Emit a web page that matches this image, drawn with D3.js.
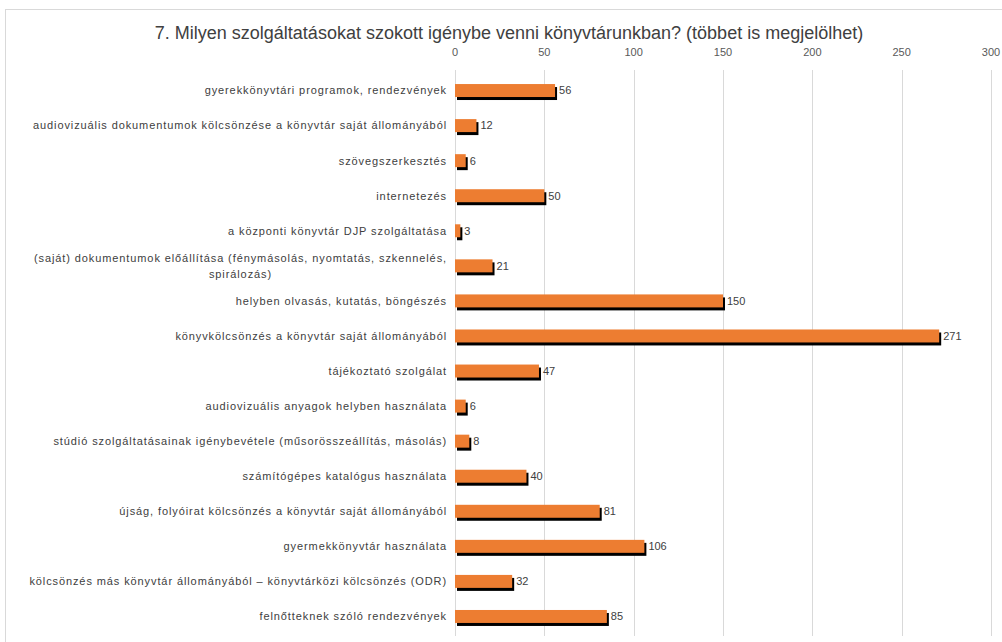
<!DOCTYPE html>
<html lang="hu">
<head>
    <meta charset="utf-8">
    <script src="https://d3js.org/d3.v7.min.js"></script>
    <style>
        body { margin: 0; background: #fff; }
        text { font-family: "Liberation Sans", Arial, sans-serif; }
    </style>
</head>
<body>
<script>
    var w = 1002;
    var h = 642;

    var categories = [
        'gyerekkönyvtári programok, rendezvények',
        'audiovizuális dokumentumok kölcsönzése a könyvtár saját állományából',
        'szövegszerkesztés',
        'internetezés',
        'a központi könyvtár DJP szolgáltatása',
        '(saját) dokumentumok előállítása (fénymásolás, nyomtatás, szkennelés,|spirálozás)',
        'helyben olvasás, kutatás, böngészés',
        'könyvkölcsönzés a könyvtár saját állományából',
        'tájékoztató szolgálat',
        'audiovizuális anyagok helyben használata',
        'stúdió szolgáltatásainak igénybevétele (műsorösszeállítás, másolás)',
        'számítógépes katalógus használata',
        'újság, folyóirat kölcsönzés a könyvtár saját állományából',
        'gyermekkönyvtár használata',
        'kölcsönzés más könyvtár állományából – könyvtárközi kölcsönzés (ODR)',
        'felnőtteknek szóló rendezvények'
    ];
    var values = [56, 12, 6, 50, 3, 21, 150, 271, 47, 6, 8, 40, 81, 106, 32, 85];
    var xTicks = [0, 50, 100, 150, 200, 250, 300];

    var data = categories.map(function(c, i) { return {cat: c, value: values[i]}; });

    var svg = d3.select('body').append('svg').attr('width', w).attr('height', h);

    // chart frame
    svg.append('rect')
        .attr('x', 5.5).attr('y', 9.5)
        .attr('width', 1010).attr('height', 650)
        .attr('fill', '#fff').attr('stroke', '#d9d9d9');

    svg.append('text')
        .attr('x', 509).attr('y', 39)
        .attr('text-anchor', 'middle')
        .attr('font-size', '18px')
        .attr('fill', '#404040')
        .text('7. Milyen szolgáltatásokat szokott igénybe venni könyvtárunkban? (többet is megjelölhet)');

    var x = d3.scaleLinear().domain([0, 300]).range([455, 991]);
    var y = d3.scaleBand().domain(categories).range([73, 634]).paddingInner(0.63).paddingOuter(0.315);

    // gridlines
    svg.selectAll('line.grid')
        .data(xTicks)
        .enter()
        .append('line')
        .attr('class', 'grid')
        .attr('x1', function(d) { return Math.round(x(d)) + 0.5; })
        .attr('x2', function(d) { return Math.round(x(d)) + 0.5; })
        .attr('y1', 70).attr('y2', 636)
        .attr('stroke', '#d9d9d9');

    svg.selectAll('text.tick')
        .data(xTicks)
        .enter()
        .append('text')
        .attr('class', 'tick')
        .attr('x', function(d) { return x(d); })
        .attr('y', 56)
        .attr('text-anchor', 'middle')
        .attr('font-size', '11px')
        .attr('fill', '#595959')
        .text(function(d) { return d; });

    // shadow then bar
    svg.selectAll('rect.shadow')
        .data(data)
        .enter()
        .append('rect')
        .attr('class', 'shadow')
        .attr('x', x(0) + 2)
        .attr('y', function(d) { return y(d.cat) + 3; })
        .attr('width', function(d) { return x(d.value) - x(0); })
        .attr('height', y.bandwidth())
        .attr('fill', '#000');

    svg.selectAll('rect.bar')
        .data(data)
        .enter()
        .append('rect')
        .attr('class', 'bar')
        .attr('x', x(0))
        .attr('y', function(d) { return y(d.cat); })
        .attr('width', function(d) { return x(d.value) - x(0); })
        .attr('height', y.bandwidth())
        .attr('fill', '#ed7d31');

    svg.selectAll('text.val')
        .data(data)
        .enter()
        .append('text')
        .attr('class', 'val')
        .attr('x', function(d) { return x(d.value) + 4; })
        .attr('y', function(d) { return y(d.cat) + y.bandwidth() / 2; })
        .attr('dy', '.35em')
        .attr('font-size', '11px')
        .attr('fill', '#404040')
        .text(function(d) { return d.value; });

    // category labels, some wrap onto two lines
    svg.selectAll('text.cat')
        .data(data)
        .enter()
        .append('text')
        .attr('class', 'cat')
        .attr('font-size', '11px')
        .attr('letter-spacing', '0.9px')
        .attr('fill', '#404040')
        .each(function(d) {
            var lines = d.cat.split('|');
            var cy = y(d.cat) + y.bandwidth() / 2;
            var t = d3.select(this);
            if (lines.length === 1) {
                t.attr('x', 447).attr('y', cy).attr('dy', '.35em')
                    .attr('text-anchor', 'end').text(lines[0]);
            } else {
                t.attr('x', 447).attr('y', cy - 8).attr('dy', '.35em')
                    .attr('text-anchor', 'end').text(lines[0]);
                var lw = this.getComputedTextLength();
                svg.append('text')
                    .attr('font-size', '11px')
                    .attr('letter-spacing', '0.9px')
                    .attr('fill', '#404040')
                    .attr('x', 447 - lw / 2).attr('y', cy + 8).attr('dy', '.35em')
                    .attr('text-anchor', 'middle')
                    .text(lines[1]);
            }
        });
</script>
</body>
</html>
